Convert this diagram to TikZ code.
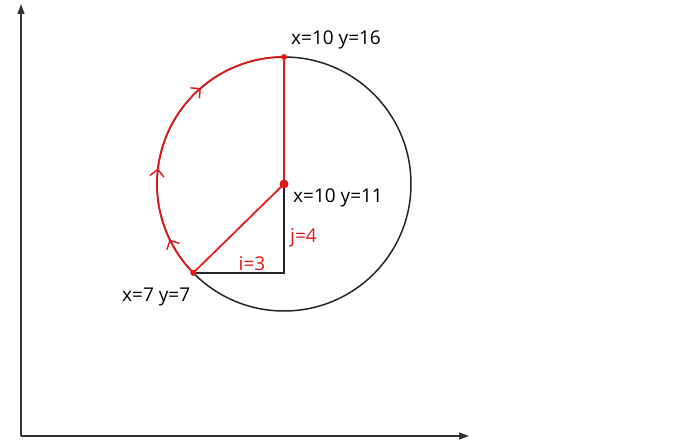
\documentclass[tikz,border=0pt]{standalone}
\usepackage{fontspec}
\setmainfont{Open Sans}
\usepackage{xcolor}
\usetikzlibrary{arrows.meta,calc,decorations.markings}
\definecolor{arcred}{RGB}{230, 20, 20}

\begin{document}
\begin{tikzpicture}[x=1pt, y=-1pt, >={Triangle[length=10pt,width=7pt]}]
        \tikzset{
            axisline/.style={->, line width=1.4pt, color=black!80},
            redline/.style={line width=1.7pt, color=arcred},
            blackline/.style={line width=1.5pt, color=black!85},
            dotmark/.style={circle, fill=arcred, inner sep=0pt, minimum size=#1},
            lbl/.style={font=\fontsize{19}{22}\selectfont, inner sep=0pt},
            redlbl/.style={lbl, text=arcred},
            arcarrows/.style={postaction={decorate, decoration={markings,
                mark=at position 0.138 with {\arrow{Straight Barb[length=7pt,width=14pt,line width=1.4pt]}},
                mark=at position 0.383 with {\arrow{Straight Barb[length=7pt,width=14pt,line width=1.4pt]}},
                mark=at position 0.696 with {\arrow{Straight Barb[length=7pt,width=14pt,line width=1.4pt]}}}}}
        }
        \useasboundingbox (0,0) rectangle (689,443);

        % Axes
        \coordinate (o) at (21,436);
        \coordinate (ytop) at (21,4);
        \coordinate (xend) at (469,436);
        \draw[axisline] (o) -- (ytop);
        \draw[axisline] (o) -- (xend);

        % Circle and key points
        \coordinate (c) at (284,184);
        \coordinate (top) at ($(c)+(270:127)$);
        \coordinate (p) at ($(c)+(135.6:127)$);
        \coordinate (q) at (c |- p);
        \draw[blackline] (c) circle[radius=127];

        % Right triangle
        \draw[blackline] (p) -- (q) -- (c);

        % Red path: arc, radius and hypotenuse
        \draw[redline, arcarrows] (p) arc[start angle=135.6, end angle=270, radius=127];
        \draw[redline] (top) -- (c);
        \draw[redline] (c) -- (p);

        \node[dotmark=9pt] (cdot) at (c) {};
        \node[dotmark=6pt] (topdot) at (top) {};
        \node[dotmark=6pt] (pdot) at (p) {};

        % Labels
        \node[lbl, anchor=west] (toplbl) at (291,40) {x=10 y=16};
        \node[lbl, anchor=west] (clbl) at (293,198) {x=10 y=11};
        \node[lbl, anchor=west] (plbl) at (122,297) {x=7 y=7};
        \node[redlbl, anchor=west] (jlbl) at (290,238) {j=4};
        \node[redlbl] (ilbl) at (252,264) {i=3};
\end{tikzpicture}
\end{document}
